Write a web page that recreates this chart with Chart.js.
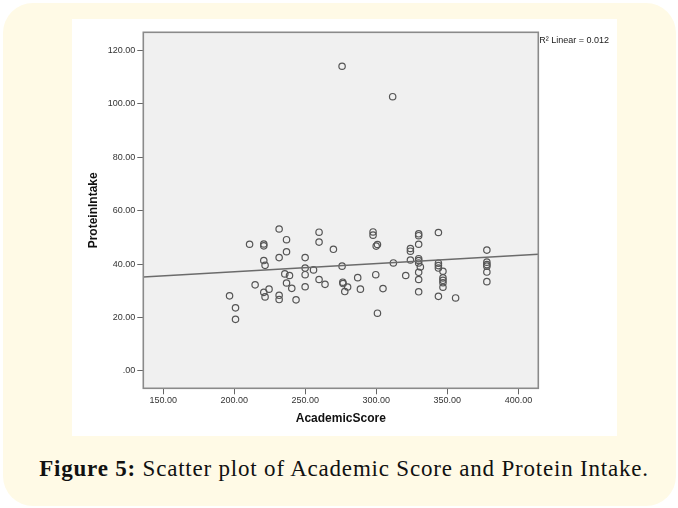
<!DOCTYPE html>
<html>
<head>
<meta charset="utf-8">
<script src="https://cdn.jsdelivr.net/npm/chart.js@4"></script>
<style>
  body { margin: 0; background: #fff; width: 678px; height: 508px; position: relative; overflow: hidden; }
  .frame { position: absolute; left: 3px; top: 3px; width: 673px; height: 503px; border-radius: 30px; background: #fffae6; }
  .panel { position: absolute; left: 72px; top: 19px; width: 545px; height: 417px; background: #fff; }
  .caption { position: absolute; left: 0; top: 457px; width: 688px; text-align: center; white-space: nowrap;
             font-family: "Liberation Serif", "DejaVu Serif", serif; font-size: 23px; line-height: 23px;
             letter-spacing: 0.8px; color: #111; }
  .caption b { font-weight: bold; }
</style>
</head>
<body>
<div class="frame"></div>
<div class="panel"><canvas id="scatter" width="545" height="417"></canvas></div>
<div class="caption"><b>Figure 5:</b> Scatter plot of Academic Score and Protein Intake.</div>
<script>
// values
const academicScore = [
  196.7, 200.9, 200.9, 210.8, 214.7, 220.8, 220.8, 220.8, 221.7, 220.8,
  221.7, 224.5, 231.6, 231.6, 231.6, 231.6, 236.8, 236.8, 235.6, 238.9,
  236.8, 240.5, 243.5, 249.9, 249.9, 249.9, 249.9, 255.8, 259.7, 259.7,
  259.7, 263.9, 269.8, 275.9, 276.4, 276.6, 279.8, 277.8, 275.9, 286.9,
  288.8, 297.7, 297.7, 300.8, 299.9, 299.6, 304.7, 300.8, 311.5, 312.0,
  320.7, 324.0, 324.0, 324.0, 329.8, 329.8, 329.8, 329.8, 329.8, 329.8,
  331.0, 329.8, 329.8, 329.8, 343.7, 343.7, 343.7, 343.7, 346.9, 346.9,
  346.9, 346.9, 346.9, 343.7, 355.8, 377.8, 377.8, 377.8, 377.8, 377.8,
  377.8
];
const proteinIntake = [
  28.1, 23.6, 19.3, 47.4, 32.2, 47.5, 46.8, 41.3, 39.5, 29.4,
  27.7, 30.6, 53.1, 42.4, 28.3, 26.7, 49.1, 44.6, 36.3, 35.7,
  32.9, 30.9, 26.6, 42.4, 38.5, 36.0, 31.5, 37.8, 51.9, 48.2,
  34.2, 32.4, 45.5, 39.2, 33.2, 32.7, 31.4, 29.7, 114.0, 34.9,
  30.6, 52.0, 50.8, 47.3, 46.7, 36.0, 30.8, 21.6, 102.6, 40.4,
  35.7, 45.8, 44.8, 41.5, 51.3, 50.6, 47.4, 42.0, 41.3, 40.4,
  38.9, 36.9, 34.2, 29.6, 51.8, 40.3, 39.4, 38.5, 37.3, 34.8,
  33.9, 33.0, 31.3, 27.9, 27.3, 45.2, 40.7, 39.8, 39.2, 37.0,
  33.4
];
const fitX = [136, 414];
const fitY = [35.1, 43.7];
const rSquared = '0.012';

const xTicks = [150, 200, 250, 300, 350, 400];
const yTicks = [0, 20, 40, 60, 80, 100, 120];
const xRange = [136, 414];
const yRange = [-6.5, 126.7];

const tickFont = { family: 'Liberation Sans, Arial, sans-serif', size: 9 };
const titleFont = { family: 'Liberation Sans, Arial, sans-serif', size: 12, weight: 'bold' };

const spssLabel = v => (v === 0 ? '.00' : v.toFixed(2));

// grey plot box with border, SPSS style
const plotBox = {
  id: 'plotBox',
  beforeDatasetsDraw(chart) {
    const { ctx, chartArea: a } = chart;
    ctx.save();
    ctx.fillStyle = '#f0f0f0';
    ctx.fillRect(a.left, a.top, a.right - a.left, a.bottom - a.top);
    ctx.restore();
  },
  afterDatasetsDraw(chart) {
    const { ctx, chartArea: a } = chart;
    ctx.save();
    ctx.strokeStyle = '#8a8a8a';
    ctx.lineWidth = 1.6;
    ctx.strokeRect(a.left, a.top, a.right - a.left, a.bottom - a.top);
    ctx.fillStyle = '#222';
    ctx.font = '9px Liberation Sans, Arial, sans-serif';
    ctx.textBaseline = 'middle';
    ctx.fillText('R\u00b2 Linear = ' + rSquared, a.right + 1, a.top + 8);
    ctx.restore();
  }
};

const ctx = document.getElementById('scatter');
new Chart(ctx, {
  type: 'scatter',
  data: {
    datasets: [
      {
        type: 'line',
        data: fitX.map((x, i) => ({ x, y: fitY[i] })),
        borderColor: '#6b6b6b',
        borderWidth: 1.5,
        pointRadius: 0,
        fill: false
      },
      {
        data: academicScore.map((x, i) => ({ x, y: proteinIntake[i] })),
        pointRadius: 3.2,
        pointBorderWidth: 1.2,
        borderColor: '#555',
        backgroundColor: 'rgba(0,0,0,0)'
      }
    ]
  },
  options: {
    responsive: false,
    animation: false,
    layout: { padding: { left: 0, top: 13.3, right: 78.7, bottom: 0 } },
    plugins: { legend: { display: false }, tooltip: { enabled: false } },
    scales: {
      x: {
        type: 'linear',
        min: xRange[0],
        max: xRange[1],
        afterFit: s => { s.height = 47.7; },
        afterBuildTicks: s => { s.ticks = xTicks.map(v => ({ value: v })); },
        grid: { drawOnChartArea: false, tickLength: 6, color: '#666' },
        border: { display: false },
        ticks: { font: tickFont, color: '#333', padding: 1, maxRotation: 0, callback: spssLabel },
        title: { display: true, text: 'AcademicScore', font: titleFont, color: '#111', padding: { top: 0, bottom: 10 } }
      },
      y: {
        min: yRange[0],
        max: yRange[1],
        afterFit: s => { s.width = 71.3; },
        afterBuildTicks: s => { s.ticks = yTicks.map(v => ({ value: v })); },
        grid: { drawOnChartArea: false, tickLength: 6, color: '#666' },
        border: { display: false },
        ticks: { font: tickFont, color: '#333', padding: 2, callback: spssLabel },
        title: { display: true, text: 'ProteinIntake', font: titleFont, color: '#111', padding: { top: 14, bottom: 0 } }
      }
    }
  },
  plugins: [plotBox]
});
</script>
</body>
</html>
